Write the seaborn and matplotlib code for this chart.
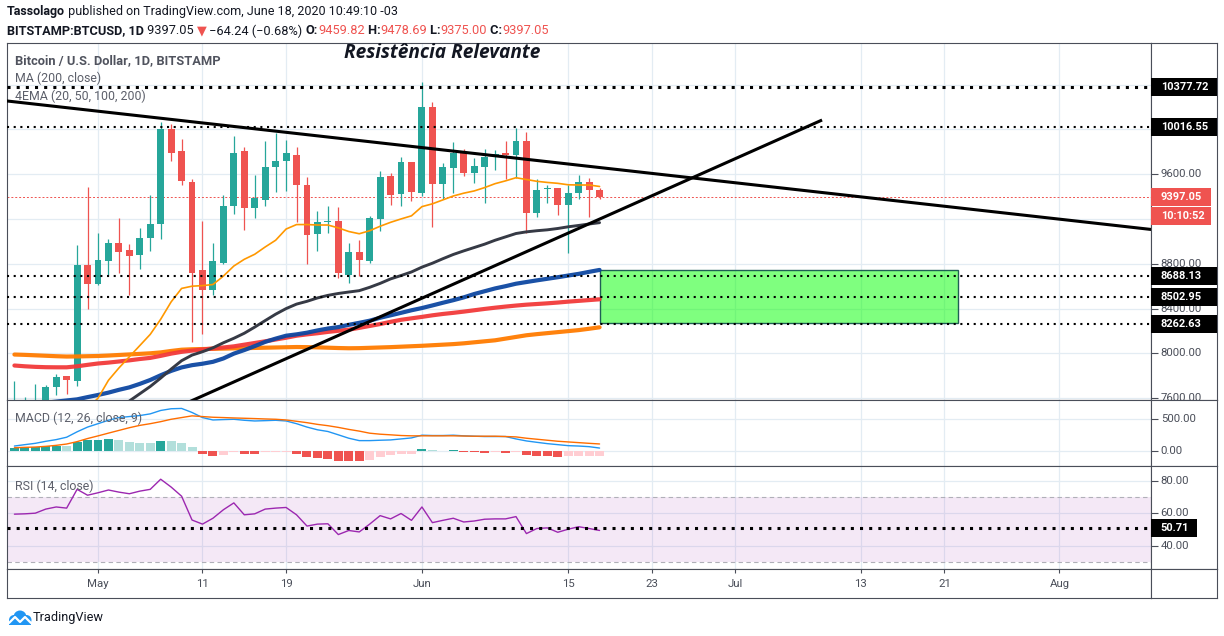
import numpy as np
import pandas as pd
import seaborn as sns
import matplotlib
matplotlib.use('Agg')
from matplotlib import pyplot as plt
import matplotlib.dates as mdates
import matplotlib.transforms as mtransforms
from matplotlib import font_manager as fm
from matplotlib.patches import Rectangle, Circle

# ---------------- values ----------------
dates = pd.date_range('2020-04-23', '2020-06-18', freq='D')
opens = [7120, 7490, 7540, 7550, 7703, 7798, 7754, 8789, 8622, 8825, 8982, 8923, 8878, 9033, 9158,
         10000, 9807, 9530, 8744, 8566, 8804, 9316, 9807, 9301, 9369, 9664, 9717, 9771, 9503, 9063,
         9170, 9182, 8700, 8902, 8825, 9202, 9583, 9426, 9708, 9435, 10196, 9515, 9658, 9786, 9613,
         9667, 9756, 9788, 9774, 9896, 9256, 9464, 9476, 9327, 9428, 9526, 9459.82]
highs = [7753, 7614, 7724, 7720, 7816, 7798, 8968, 9482, 9072, 9018, 9209, 8973, 9116, 9414, 10068,
         10047, 9911, 9560, 9182, 8982, 9414, 9940, 9845, 9592, 9896, 9964, 9905, 9845, 9571, 9271,
         9316, 9304, 8982, 9009, 9226, 9628, 9607, 9750, 9708, 10425, 10241, 9702, 9890, 9821, 9747,
         9821, 9815, 9896, 10009, 9976, 9554, 9506, 9476, 9503, 9589, 9562, 9478.69]
lows = [7020, 7400, 7450, 7520, 7629, 7638, 7709, 8396, 8610, 8700, 8721, 8521, 8756, 8917, 9024,
        9717, 9503, 8105, 8173, 8521, 8795, 9244, 9101, 9211, 9319, 9444, 9453, 9176, 8795, 8917,
        9078, 8670, 8625, 8691, 8804, 9095, 9325, 9319, 9363, 9405, 9131, 9375, 9429, 9583, 9524,
        9345, 9637, 9557, 9568, 9072, 9220, 9339, 9235, 8893, 9375, 9220, 9375.00]
closes = [7490, 7540, 7550, 7697, 7789, 7762, 8789, 8622, 8834, 8982, 8908, 8869, 9030, 9155, 10000,
          9792, 9542, 8721, 8566, 8825, 9316, 9792, 9301, 9390, 9664, 9717, 9792, 9503, 9060, 9170,
          9176, 8715, 8902, 8837, 9208, 9571, 9417, 9708, 9443, 10196, 9515, 9661, 9786, 9613, 9673,
          9750, 9777, 9774, 9896, 9256, 9458, 9476, 9327, 9428, 9526, 9455, 9397.05]

ema20 = [7100, 7140, 7180, 7230, 7280, 7330, 7420, 7510, 7600, 7760, 7870, 7970, 8070, 8170, 8305,
         8460, 8580, 8600, 8605, 8615, 8690, 8780, 8840, 8885, 8950, 9010, 9110, 9150, 9150, 9146,
         9146, 9120, 9088, 9068, 9095, 9135, 9170, 9200, 9228, 9310, 9335, 9370, 9405, 9430, 9450,
         9480, 9515, 9540, 9568, 9552, 9536, 9526, 9518, 9505, 9503, 9503, 9490]
ema50 = [7170, 7185, 7200, 7220, 7240, 7260, 7300, 7350, 7410, 7465, 7520, 7575, 7640, 7705, 7780,
         7860, 7935, 7985, 8015, 8050, 8095, 8135, 8180, 8235, 8293, 8350, 8400, 8440, 8465, 8495,
         8518, 8535, 8548, 8560, 8590, 8625, 8665, 8695, 8727, 8770, 8805, 8845, 8883, 8915, 8945,
         8975, 9010, 9040, 9070, 9085, 9095, 9103, 9115, 9130, 9142, 9155, 9167]
ema100 = [7530, 7540, 7550, 7560, 7570, 7580, 7590, 7610, 7629, 7650, 7675, 7697, 7728, 7763, 7805,
          7844, 7875, 7895, 7908, 7925, 7955, 7998, 8030, 8065, 8103, 8132, 8158, 8170, 8185, 8205,
          8222, 8235, 8255, 8273, 8292, 8318, 8340, 8362, 8385, 8405, 8428, 8452, 8475, 8500, 8530,
          8555, 8580, 8600, 8622, 8637, 8652, 8666, 8680, 8695, 8710, 8728, 8745]
ema200 = [7892, 7885, 7880, 7877, 7876, 7876, 7885, 7898, 7910, 7918, 7928, 7938, 7950, 7960, 7978,
          7998, 8014, 8025, 8035, 8044, 8053, 8063, 8078, 8093, 8108, 8124, 8140, 8158, 8170, 8180,
          8192, 8202, 8212, 8228, 8245, 8262, 8282, 8300, 8313, 8326, 8340, 8352, 8362, 8373, 8385,
          8397, 8408, 8418, 8427, 8435, 8441, 8447, 8454, 8462, 8469, 8476, 8483]
ma200 = [7990, 7987, 7983, 7979, 7975, 7972, 7973, 7975, 7977, 7981, 7986, 7991, 7996, 8001, 8009,
         8022, 8033, 8037, 8039, 8041, 8043, 8045, 8047, 8049, 8051, 8053, 8055, 8057, 8056, 8054,
         8051, 8048, 8046, 8047, 8050, 8053, 8056, 8060, 8064, 8068, 8073, 8078, 8083, 8090, 8099,
         8108, 8117, 8132, 8147, 8162, 8172, 8181, 8190, 8199, 8208, 8220, 8233]

macd = [75, 97, 118, 150, 177, 215, 301, 376, 430, 484, 527, 543, 559, 586, 640, 667, 672, 608, 527,
        489, 495, 500, 484, 473, 478, 484, 473, 430, 376, 333, 306, 253, 199, 161, 161, 167, 172, 188,
        204, 247, 242, 242, 247, 237, 231, 226, 226, 226, 188, 156, 134, 113, 97, 81, 75, 65, 43]
signal = [48, 54, 59, 70, 86, 107, 145, 194, 236, 280, 323, 366, 403, 430, 462, 500, 527, 554, 543,
          532, 527, 521, 516, 511, 505, 500, 489, 468, 446, 419, 398, 371, 339, 312, 279, 263, 253, 242,
          237, 237, 237, 237, 237, 234, 231, 231, 231, 226, 220, 199, 183, 167, 151, 140, 129, 118, 108]
hist = [43, 54, 59, 70, 81, 78, 145, 167, 177, 179, 176, 140, 124, 122, 161, 158, 124, 54,
        -48, -81, -65, -27, -48, -50, -27, -25, -23, -48, -97, -113, -129, -161, -162, -163, -145, -97,
        -75, -48, -45, 32, 16, 4, 16, -16, -27, -28, -26, -28, -16, -65, -81, -82, -97, -81, -80, -79, -78]
rsi = [59.4, 59.6, 60.0, 62.5, 63.8, 63.1, 74.6, 71.0, 72.5, 74.2, 72.9, 71.9, 73.5, 74.6, 80.8, 76.0,
       70.4, 55.8, 53.3, 56.9, 62.1, 66.3, 59.0, 59.6, 62.5, 63.1, 63.5, 59.0, 52.1, 53.3, 53.5, 46.9,
       49.4, 48.5, 53.3, 58.5, 56.5, 59.8, 55.6, 63.8, 54.2, 55.6, 56.9, 54.6, 55.2, 56.3, 56.5, 56.5,
       57.9, 47.5, 50.6, 51.0, 48.3, 50.2, 51.7, 50.6, 49.4]

levels = [10377.72, 10016.55, 8688.13, 8502.95, 8262.63]
last_price = 9397.05
countdown = '10:10:52'
rsi_level = 50.71
desc_dates = ['2020-04-22 07:00', '2020-08-10 00:00']
desc_prices = [10253, 9104]
asc_dates = ['2020-05-08 00:00', '2020-07-09 07:00']
asc_prices = [7496, 10083]
box_dates = ['2020-06-18 00:00', '2020-07-22 07:00']
box_prices = [8275, 8744]

xlim_dates = ['2020-04-22 07:00', '2020-08-09 18:30']
tick_dates = ['2020-05-01', '2020-05-11', '2020-05-19', '2020-06-01', '2020-06-15',
              '2020-06-23', '2020-07-01', '2020-07-13', '2020-07-21', '2020-08-01']
tick_labels = ['May', '11', '19', 'Jun', '15', '23', 'Jul', '13', '21', 'Aug']
price_ticks = [7600, 8000, 8400, 8800, 9200, 9600, 10000, 10400]
macd_ticks = [0, 500]
rsi_ticks = [40, 60, 80]


# ---------------- fonts: pick families that really have bold / bold italic faces ----------------
def has_face(fam, weight='normal', style='normal'):
    try:
        path = fm.findfont(fm.FontProperties(family=fam, weight=weight, style=style),
                           fallback_to_default=False).lower()
    except Exception:
        return False
    ok = ('bold' in path) if weight == 'bold' else True
    if style == 'italic':
        ok = ok and ('italic' in path or 'oblique' in path)
    return ok


cands = ['Roboto', 'Open Sans', 'Noto Sans', 'Lato', 'Liberation Sans', 'DejaVu Sans']
FONT = next((f for f in cands if has_face(f, 'bold')), 'DejaVu Sans')
BI_FONT = next((f for f in ['Open Sans'] + cands if has_face(f, 'bold', 'italic')), 'DejaVu Sans')

sns.set_style('white')
plt.rcParams['font.family'] = [FONT, 'DejaVu Sans']

GREEN, RED = '#26a69a', '#ef5350'
GRID = '#e3ecf3'
FRAME = '#4a4e59'
TXT = '#4a4e59'
DARK = '#131722'

W, H = 1224, 636
fig = plt.figure(figsize=(W / 100, H / 100), dpi=100)
renderer = fig.canvas.get_renderer()


def rect(x0, y0, x1, y1):
    return [x0 / W, 1 - y1 / H, (x1 - x0) / W, (y1 - y0) / H]


def text_w(parts, size):
    w = 0
    for s, _, weight in parts:
        t = fig.text(0, 0, s, fontsize=size, fontweight=weight)
        w += t.get_window_extent(renderer).width
        t.remove()
    return w


def fit(parts, target, base=10.0):
    return base * target / text_w(parts, base)


L, R, RR, TOP = 7, 1151, 1217, 43
ax_main = fig.add_axes(rect(L, TOP, R, 400))
ax_macd = fig.add_axes(rect(L, 400, R, 466))
ax_rsi = fig.add_axes(rect(L, 466, R, 569))
ax_time = fig.add_axes(rect(L, 569, R, 598))
sc_main = fig.add_axes(rect(R, TOP, RR, 400))
sc_macd = fig.add_axes(rect(R, 400, RR, 466))
sc_rsi = fig.add_axes(rect(R, 466, RR, 569))
sc_time = fig.add_axes(rect(R, 569, RR, 598))

xs = mdates.date2num(dates)
xlim = mdates.date2num(pd.to_datetime(xlim_dates))
txs = mdates.date2num(pd.to_datetime(tick_dates))

for ax in [ax_main, ax_macd, ax_rsi, ax_time, sc_main, sc_macd, sc_rsi, sc_time]:
    ax.set_facecolor('white')
    for sp in ax.spines.values():
        sp.set_color(FRAME)
        sp.set_linewidth(0.8)
    ax.set_xticks([])
    ax.set_yticks([])
for ax in [ax_main, ax_macd, ax_rsi, ax_time]:
    ax.set_xlim(xlim)
for ax in [ax_main, ax_macd, ax_rsi]:
    for t in txs:
        ax.axvline(t, color=GRID, lw=0.9, zorder=0)

ax_main.set_ylim(10377.72 - 313 * 8.925, 10377.72 + 44 * 8.925)
ax_macd.set_ylim(-242, 806)
ax_rsi.set_ylim(25.8, 88.9)
for sc, ax in [(sc_main, ax_main), (sc_macd, ax_macd), (sc_rsi, ax_rsi)]:
    sc.set_ylim(ax.get_ylim())
    sc.set_xlim(0, 1)

LBL = fit([('9600.00', None, 'normal')], 41)
SMALL = fit([('MA (200, close)', None, 'normal')], 86)

# ---------------- main panel ----------------
for p in price_ticks:
    ax_main.axhline(p, color=GRID, lw=0.9, zorder=0)

o, h, l, c = map(np.asarray, (opens, highs, lows, closes))
cols = np.where(c >= o, GREEN, RED)
ax_main.vlines(xs, l, h, colors=cols, lw=0.9, zorder=3)
ax_main.bar(xs, np.maximum(np.abs(c - o), 9), bottom=np.minimum(o, c), width=0.66,
            color=cols, lw=0, zorder=3)

sns.lineplot(x=xs, y=ma200, ax=ax_main, color='#ff7b00', lw=3.0, alpha=0.95, zorder=4)
sns.lineplot(x=xs, y=ema200, ax=ax_main, color='#f23a3a', lw=3.0, alpha=0.95, zorder=4)
sns.lineplot(x=xs, y=ema100, ax=ax_main, color='#0d47a1', lw=3.0, alpha=0.95, zorder=4)
sns.lineplot(x=xs, y=ema50, ax=ax_main, color='#363a45', lw=2.1, zorder=4)
sns.lineplot(x=xs, y=ema20, ax=ax_main, color='#ff9800', lw=1.2, zorder=4)

ax_main.plot(mdates.date2num(pd.to_datetime(desc_dates)), desc_prices, color='black', lw=2.2, zorder=5)
ax_main.plot(mdates.date2num(pd.to_datetime(asc_dates)), asc_prices, color='black', lw=2.2,
             zorder=5, solid_capstyle='butt')

bx = mdates.date2num(pd.to_datetime(box_dates))
ax_main.add_patch(Rectangle((bx[0], box_prices[0]), bx[1] - bx[0], box_prices[1] - box_prices[0],
                            fc=(0, 1, 0, 0.5), ec='#1f5f55', lw=1.0, zorder=2))

ax_main.axhline(levels[0], color='black', lw=2.2, ls=(0, (1, 2)), dash_capstyle='butt', zorder=6)
for lv in levels[1:]:
    ax_main.axhline(lv, color='black', lw=1.5, ls=(0, (1, 2.2)), dash_capstyle='butt', zorder=6)
ax_main.axhline(last_price, color=RED, lw=0.7, ls=(0, (2, 2)), zorder=2)


def ax_y(ax, py):
    # figure pixel row -> axes fraction of that panel
    bb = ax.get_position()
    return ((1 - py / H) - bb.y0) / bb.height


title_txt = 'Bitcoin / U.S. Dollar, 1D, BITSTAMP'
ax_main.text(8 / (R - L), ax_y(ax_main, 61), title_txt, transform=ax_main.transAxes,
             fontsize=fit([(title_txt, None, 'bold')], 205), color='#50535e', fontweight='bold',
             va='center', zorder=7)
ax_main.text(8 / (R - L), ax_y(ax_main, 78), 'MA (200, close)', transform=ax_main.transAxes,
             fontsize=SMALL, color='#5d606b', va='center', zorder=7)
ax_main.text(8 / (R - L), ax_y(ax_main, 96), '4EMA (20, 50, 100, 200)', transform=ax_main.transAxes,
             fontsize=SMALL, color='#5d606b', va='center', zorder=7)
res_txt = 'Resistência Relevante'
t = fig.text(0, 0, res_txt, fontsize=10, fontweight='bold', fontstyle='italic', family=BI_FONT)
res_size = 10 * 197 / t.get_window_extent(renderer).width
t.remove()
ax_main.text((442 - L) / (R - L), ax_y(ax_main, 53.5), res_txt, transform=ax_main.transAxes,
             fontsize=res_size, fontweight='bold', fontstyle='italic', family=BI_FONT,
             color='#131722', ha='center', va='center', zorder=7)

# ---------------- MACD ----------------
for p in macd_ticks:
    ax_macd.axhline(p, color=GRID, lw=0.9, zorder=0)
hv = np.asarray(hist, dtype=float)
prev = np.r_[hv[0] - 1, hv[:-1]]
hcols = np.where(hv >= 0, np.where(hv >= prev, '#26a69a', '#b2dfdb'),
                 np.where(hv < prev, '#ef5350', '#ffcdd2'))
ax_macd.bar(xs, hv, width=0.86, color=hcols, lw=0, zorder=2)
sns.lineplot(x=xs, y=macd, ax=ax_macd, color='#2196f3', lw=1.0, zorder=3)
sns.lineplot(x=xs, y=signal, ax=ax_macd, color='#ff6d00', lw=1.0, zorder=3)
ax_macd.text(8 / (R - L), ax_y(ax_macd, 418), 'MACD (12, 26, close, 9)', transform=ax_macd.transAxes,
             fontsize=SMALL, color='#5d606b', va='center', zorder=7)

# ---------------- RSI ----------------
for p in rsi_ticks:
    ax_rsi.axhline(p, color=GRID, lw=0.9, zorder=0)
ax_rsi.axhspan(30, 70, color='#9c27b0', alpha=0.1, lw=0, zorder=1)
for p in (30, 70):
    ax_rsi.axhline(p, color='#b0b0b8', lw=0.8, ls=(0, (4, 3)), zorder=1)
sns.lineplot(x=xs, y=rsi, ax=ax_rsi, color='#9c27b0', lw=1.0, zorder=3)
ax_rsi.axhline(rsi_level, color='black', lw=2.2, ls=(0, (1, 2)), dash_capstyle='butt', zorder=4)
ax_rsi.text(8 / (R - L), ax_y(ax_rsi, 486), 'RSI (14, close)', transform=ax_rsi.transAxes,
            fontsize=SMALL, color='#5d606b', va='center', zorder=7)

# ---------------- time axis ----------------
ax_time.set_ylim(0, 1)
ax_time.set_xticks(txs)
ax_time.xaxis.set_ticks_position('top')
ax_time.tick_params(axis='x', direction='in', length=3, width=0.8, colors=FRAME, labeltop=False)
for tx, lab in zip(txs, tick_labels):
    ax_time.text(tx, ax_y(ax_time, 584), lab, ha='center', va='center', fontsize=LBL, color=TXT)


# ---------------- price scales ----------------
SCW = RR - R


def scale_labels(sc, ticks, boxes):
    tr = mtransforms.blended_transform_factory(sc.transAxes, sc.transData)
    y0, y1 = sc.get_ylim()
    per_px = (y1 - y0) / (sc.get_position().height * H)
    sc.set_yticks(list(ticks) + [b[0] for b in boxes])
    sc.tick_params(axis='y', direction='in', length=5, width=0.8, colors=FRAME,
                   left=True, right=False, labelleft=False, labelright=False)
    for v in ticks:
        if any(abs(v - b[0]) < 10 * per_px for b in boxes):
            continue  # hidden behind a label box on the reference
        sc.text(9.7 / SCW, v, f'{v:.2f}', transform=tr, ha='left', va='center',
                fontsize=LBL, color=TXT, clip_on=True, zorder=3)
    for v, s, fc, wpx in boxes:
        sc.add_patch(Rectangle((0, v - 9 * per_px), wpx / SCW, 18 * per_px, transform=tr,
                               fc=fc, ec='none', zorder=4, clip_on=True))
        sc.text(9.7 / SCW, v, s, transform=tr, ha='left', va='center', fontsize=BOX,
                color='white', fontweight='bold', clip_on=True, zorder=5)


BOX = fit([('10377.72', None, 'bold')], 47.5)
scale_labels(sc_main, price_ticks,
             [(levels[0], '10377.72', 'black', SCW), (levels[1], '10016.55', 'black', SCW),
              (last_price, '9397.05', RED, 60), (last_price - 19.5 * 8.925, countdown, RED, 60),
              (levels[2], '8688.13', 'black', SCW), (levels[3], '8502.95', 'black', SCW),
              (levels[4], '8262.63', 'black', SCW)])
scale_labels(sc_macd, macd_ticks, [])
scale_labels(sc_rsi, rsi_ticks, [(rsi_level, '50.71', 'black', 46)])

# ---------------- header ----------------


def pieces(x_px, y_px, parts, target):
    size = fit(parts, target)
    x = x_px
    for s, color, weight in parts:
        tt = fig.text(x / W, 1 - y_px / H, s, color=color, fontsize=size, fontweight=weight,
                      ha='left', va='center')
        x += tt.get_window_extent(renderer).width


pieces(7, 12, [('Tassolago', DARK, 'bold'),
               (' published on TradingView.com, June 18, 2020 10:49:10 -03', DARK, 'normal')], 390)
pieces(7, 31, [('BITSTAMP:BTCUSD, 1D', DARK, 'bold'), (' 9397.05 ', DARK, 'normal'),
               ('▼', RED, 'normal'), (' \u221264.24 (\u22120.68%) ', DARK, 'normal'),
               ('O:', DARK, 'bold'), ('9459.82', RED, 'normal'),
               (' H:', DARK, 'bold'), ('9478.69', RED, 'normal'),
               (' L:', DARK, 'bold'), ('9375.00', RED, 'normal'),
               (' C:', DARK, 'bold'), ('9397.05', RED, 'normal')], 543)

# ---------------- logo ----------------
lg = fig.add_axes(rect(8, 608, 32, 626))
lg.set_xlim(0, 24)
lg.set_ylim(0, 18)
lg.axis('off')
for cx, cy, r in [(6, 6, 5), (12, 9, 6.5), (18.5, 6, 5)]:
    lg.add_patch(Circle((cx, cy), r, color='#2196f3', lw=0))
lg.add_patch(Rectangle((1, 1), 22, 5, color='#2196f3', lw=0))
lg.plot([1, 7, 12, 17, 23], [3, 9, 4, 9, 3], color='white', lw=1.6)
fig.text(33 / W, 1 - 617 / H, 'TradingView', fontsize=fit([('TradingView', None, 'normal')], 71),
         color=DARK, ha='left', va='center')

fig.savefig('out.png', dpi=100, facecolor='white')
